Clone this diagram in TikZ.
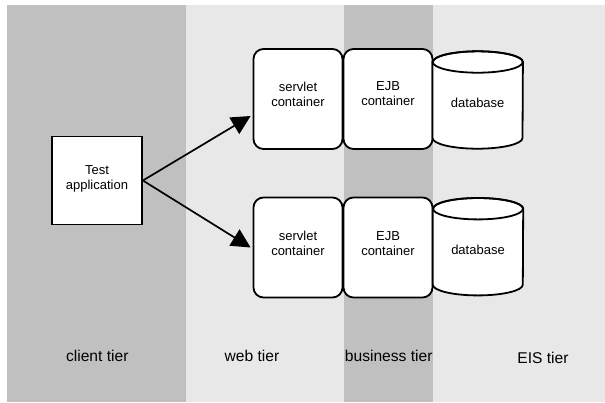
\documentclass[tikz,border=0pt]{standalone}
\usepackage{fontspec}
\setmainfont{Liberation Sans}
\usetikzlibrary{arrows.meta}
\definecolor{tierdark}{HTML}{C0C0C0}
\definecolor{tierlight}{HTML}{E8E8E8}
\tikzset{
  boxfont/.style={font=\fontsize{13bp}{15bp}\selectfont},
  tierfont/.style={font=\fontsize{15.6bp}{18bp}\selectfont},
  plainbox/.style={draw, line width=1.8bp, fill=white, minimum width=90bp, minimum height=88bp},
  roundbox/.style={draw, line width=1.8bp, fill=white, rounded corners=10bp,
                   minimum width=89bp, minimum height=100bp},
  boxtext/.style={boxfont, align=center, inner sep=0pt},
  dbhold/.style={minimum width=90bp, minimum height=97bp, inner sep=0pt},
  conn/.style={line width=1.7bp, -{Triangle[length=19bp,width=19bp]}},
  tierlabel/.style={tierfont, inner sep=0pt}
}
% cylinder drawn around a named placeholder node
\newcommand{\drawdb}[1]{%
  \filldraw[line width=1.8bp, fill=white]
    ([yshift=-10.7bp]#1.north west) -- ([yshift=10.7bp]#1.south west)
    arc[start angle=180, end angle=360, x radius=45bp, y radius=10.7bp]
    -- ([yshift=-10.7bp]#1.north east)
    arc[start angle=0, end angle=180, x radius=45bp, y radius=10.7bp] -- cycle;
  \draw[line width=1.8bp] ([yshift=-10.7bp]#1.north)
    ellipse[x radius=45bp, y radius=10.7bp];
}
\begin{document}
\begin{tikzpicture}[x=1bp,y=1bp]
  \useasboundingbox (0,0) rectangle (605,-402);
  % tier bands
  \fill[tierdark]  (7,-5)   rectangle (186,-402);
  \fill[tierlight] (186,-5) rectangle (344,-402);
  \fill[tierdark]  (344,-5) rectangle (433,-402);
  \fill[tierlight] (433,-5) rectangle (605,-402);

  % client
  \node[plainbox] (test) at (97,-180.5) {};
  \node[boxtext] at ([yshift=1.5bp]test.center) {Test\\application};

  % upper row
  \node[roundbox] (srv1) at (298,-99) {};
  \node[boxtext] at ([yshift=5bp]srv1.center) {servlet\\container};
  \node[roundbox] (ejb1) at (388,-99) {};
  \node[boxtext] at ([yshift=5bp]ejb1.center) {EJB\\container};
  \node[dbhold] (db1) at (477.7,-100) {};
  \drawdb{db1}
  \node[boxtext] at ([yshift=-2.7bp]db1.center) {database};

  % lower row
  \node[roundbox] (srv2) at (298,-247.5) {};
  \node[boxtext] at ([yshift=4bp]srv2.center) {servlet\\container};
  \node[roundbox] (ejb2) at (388,-247.5) {};
  \node[boxtext] at ([yshift=4bp]ejb2.center) {EJB\\container};
  \node[dbhold] (db2) at (478,-246.7) {};
  \drawdb{db2}
  \node[boxtext] at ([yshift=-3bp]db2.center) {database};

  % connectors
  \draw[conn] (test.east) -- ([yshift=-17bp,xshift=-2bp]srv1.west);
  \draw[conn] (test.east) -- ([xshift=-2bp]srv2.west);

  % tier labels
  \node[tierlabel] (lclient) at (97.3,-356) {client tier};
  \node[tierlabel] (lweb)    at (252,-356) {web tier};
  \node[tierlabel] (lbiz)    at (388.7,-356) {business tier};
  \node[tierlabel] (leis)    at (543,-358) {EIS tier};
\end{tikzpicture}
\end{document}
